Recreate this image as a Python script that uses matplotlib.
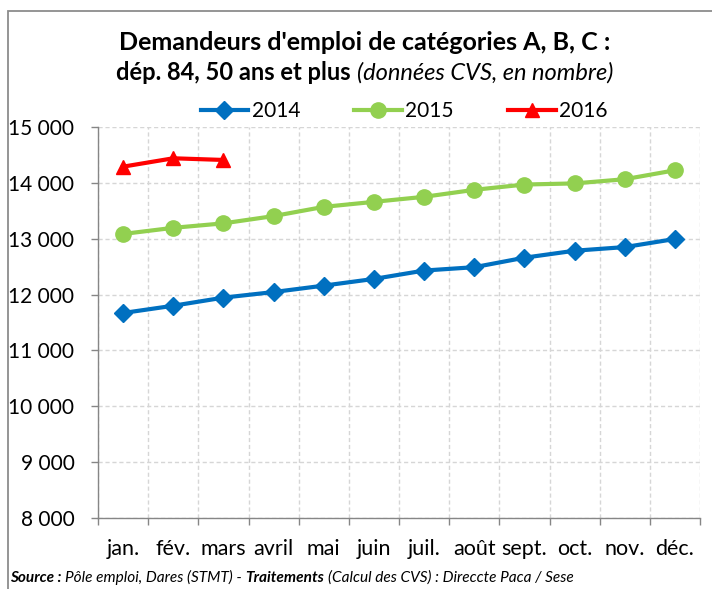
import matplotlib.pyplot as plt
from matplotlib.patches import Rectangle

plt.rcParams['font.family'] = ['Lato', 'DejaVu Sans']

# Data
months = ['jan.', 'fév.', 'mars', 'avril', 'mai', 'juin',
          'juil.', 'août', 'sept.', 'oct.', 'nov.', 'déc.']
y2014 = [11670, 11800, 11945, 12045, 12160, 12280,
         12430, 12490, 12660, 12785, 12850, 12995]
y2015 = [13085, 13195, 13275, 13405, 13570, 13660,
         13750, 13875, 13970, 13990, 14065, 14225]
y2016 = [14290, 14440, 14410]
yticks = [8000, 9000, 10000, 11000, 12000, 13000, 14000, 15000]
ytick_labels = ['8 000', '9 000', '10 000', '11 000', '12 000',
                '13 000', '14 000', '15 000']

W, H = 712, 589
fig = plt.figure(figsize=(W / 100, H / 100), dpi=100)
ax = fig.add_axes([98 / W, 1 - 518 / H, (700 - 98) / W, (518 - 127) / H])

x = list(range(len(months)))
ax.plot(x, y2014, color='#0070C0', lw=3, marker='D', ms=9.5, label='2014')
ax.plot(x, y2015, color='#92D050', lw=3, marker='o', ms=11, label='2015')
ax.plot(x[:len(y2016)], y2016, color='#FF0000', lw=3, marker='^', ms=10,
        label='2016')

ax.set_xlim(-0.5, len(months) - 0.5)
ax.set_ylim(8000, 15000)
ax.set_yticks(yticks, ytick_labels)
ax.set_xticks(x, months)
ax.set_xticks([i - 0.5 for i in range(len(months) + 1)], minor=True)

ax.tick_params(axis='x', which='major', length=0, pad=15, labelsize=15.5)
ax.tick_params(axis='x', which='minor', length=5, width=1, color='#868686')
ax.tick_params(axis='y', length=5, width=1, color='#868686', pad=12,
               labelsize=15)

ax.grid(axis='y', which='major', color='#D6D6D6', ls=(0, (3, 2)), lw=1)
ax.grid(axis='x', which='minor', color='#D6D6D6', ls=(0, (3, 2)), lw=1)
ax.set_axisbelow(True)
for side in ['top', 'right']:
    ax.spines[side].set_visible(False)
for side in ['left', 'bottom']:
    ax.spines[side].set_color('#868686')
    ax.spines[side].set_linewidth(1)

fig.legend(loc='center', bbox_to_anchor=(404 / W, 1 - 111 / H), ncol=3,
           frameon=False, fontsize=15, handlelength=2.3,
           handletextpad=0.15, columnspacing=2.6)

# outer frame
fig.patches.append(Rectangle((8 / W, -0.1), 2, 1.1 - 11 / H, fill=False,
                             edgecolor='#8C8C8C', lw=1.3,
                             transform=fig.transFigure))

fig.text(365 / W, 1 - 43 / H, "Demandeurs d'emploi de catégories A, B, C :",
         ha='center', va='center', fontsize=18, weight='bold')

renderer = fig.canvas.get_renderer()


def text_row(pieces, x_start, y, size, gap, center=None):
    arts = []
    for s, weight, style in pieces:
        arts.append(fig.text(0, 1 - y / H, s, fontsize=size, weight=weight,
                             style=style, va='baseline'))
    widths = [a.get_window_extent(renderer).width for a in arts]
    total = sum(widths) + gap * (len(arts) - 1)
    pos = x_start if center is None else center - total / 2
    for a, w in zip(arts, widths):
        a.set_x(pos / W)
        pos += w + gap


text_row([('dép. 84, 50 ans et plus', 'bold', 'normal'),
          ('(données CVS, en nombre)', 'normal', 'italic')],
         0, 80, 17, 6, center=365)
text_row([('Source :', 'bold', 'italic'),
          ('Pôle emploi, Dares (STMT) -', 'normal', 'italic'),
          ('Traitements', 'bold', 'italic'),
          ('(Calcul des CVS) : Direccte Paca / Sese', 'normal', 'italic')],
         10, 582, 11.1, 3.5)

fig.savefig('out.png', dpi=100)
